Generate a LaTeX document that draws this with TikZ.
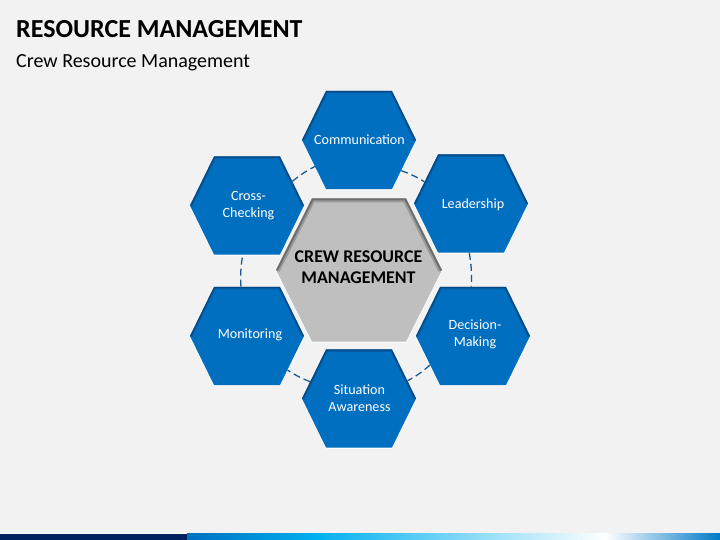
\documentclass[tikz,border=0pt]{standalone}
\usepackage{fontspec}
\setmainfont{Carlito}
\usetikzlibrary{shapes.symbols}
\definecolor{pagegray}{HTML}{F2F2F2}
\definecolor{hexblue}{HTML}{006FC0}
\definecolor{hexdark}{HTML}{0A3F73}
\definecolor{hubgray}{HTML}{BFBFBF}
\definecolor{hubdark}{HTML}{5A5A5A}
\definecolor{dashblue}{HTML}{1B5A94}
\definecolor{barnavy}{HTML}{002060}
\definecolor{barblue}{HTML}{0070C0}
\definecolor{barsky}{HTML}{00B0F0}
\newcommand{\hextext}[3]{\makebox[0pt]{\hspace*{#1}\hspace*{#1}\raisebox{\dimexpr#2-.25em\relax}[0pt][0pt]{\begin{tabular}{@{}c@{}}#3\end{tabular}}}}
\tikzset{
    hexbase/.style={shape=signal,signal to=east and west,inner sep=0pt,
        preaction={draw=white,line width=1pt,opacity=.7,transform canvas={yshift=-.6pt}}},
    spoke/.style={hexbase,fill=hexblue,text=white,
        signal pointer angle=127.8,minimum width=114pt,minimum height=98.4pt,
        font=\fontsize{14.1pt}{17pt}\selectfont,
        path picture={
            \begin{scope}[shift={(path picture bounding box.center)}]
            \draw[hexdark,line width=5pt,opacity=.3] (-57,0) -- (-33,-49.2) -- (33,-49.2) -- (57,0);
            \draw[hexdark,line width=2.6pt,opacity=.7] (-57,0) -- (-33,-49.2) -- (33,-49.2) -- (57,0);
            \end{scope}}},
    hub/.style={hexbase,fill=hubgray,text=black,
        signal pointer angle=126.6,minimum width=166pt,minimum height=143.4pt,
        font=\bfseries\fontsize{17.9pt}{21pt}\selectfont,
        path picture={
            \begin{scope}[shift={(path picture bounding box.center)}]
            \draw[hubdark,line width=8pt,opacity=.35] (-83,0) -- (-47,-71.7) -- (47,-71.7) -- (83,0);
            \draw[hubdark,line width=4pt,opacity=.7] (-83,0) -- (-47,-71.7) -- (47,-71.7) -- (83,0);
            \end{scope}}},
    link/.style={dashblue,line width=1.3pt,dash pattern=on 7pt off 4pt},
    caption/.style={anchor=west,inner sep=0pt,text=black}
}
\begin{document}
\begin{tikzpicture}
    [x=1pt,y=-1pt]
    \path[use as bounding box,fill=pagegray] (0,0) rectangle (720,540);
    \fill[white,opacity=.7] (0,532.5) rectangle (395,534);
    \fill[barnavy] (0,533.5) rectangle (187,540);
    \fill[left color=barblue,right color=barsky] (187,533.5) rectangle (316,540);
    \fill[left color=barsky,right color=white] (316,533.5) rectangle (605,540);
    \fill[left color=white,right color=barblue!85!barsky] (605,533.5) rectangle (720,540);
    \node[caption,font=\bfseries\fontsize{26pt}{30pt}\selectfont] (title) at (16,29) {RESOURCE MANAGEMENT};
    \node[caption,font=\fontsize{20pt}{24pt}\selectfont] (subtitle) at (16,62.5) {Crew Resource Management};
    \node[hub] (crew) at (359,270) {\hextext{-.5pt}{1pt}{CREW RESOURCE\\MANAGEMENT}};
    \node[spoke] (comm) at (359,140) {\hextext{.5pt}{-1pt}{Communication}};
    \node[spoke] (lead) at (471,203.5) {\hextext{2pt}{-2pt}{Leadership}};
    \node[spoke] (decision) at (473,336) {\hextext{2pt}{1pt}{Decision-\\Making}};
    \node[spoke] (situation) at (359,398.5) {\hextext{.5pt}{-1pt}{Situation\\Awareness}};
    \node[spoke] (monitor) at (247,336) {\hextext{3pt}{1pt}{Monitoring}};
    \node[spoke] (cross) at (247,205.5) {\hextext{1.5pt}{0pt}{Cross-\\Checking}};
    \draw[link] (cross.28.6) to[bend left=6] (comm.211.8);
    \draw[link] (comm.-36) to[bend left=6] (lead.155);
    \draw[link] (lead.-92.3) to[bend left=6] (decision.92.3);
    \draw[link] (decision.214.6) to[bend left=6] (situation.20.8);
    \draw[link] (situation.161.3) to[bend left=6] (monitor.-40);
    \draw[link] (monitor.97) to[bend left=6] (cross.-95.8);
\end{tikzpicture}
\end{document}
